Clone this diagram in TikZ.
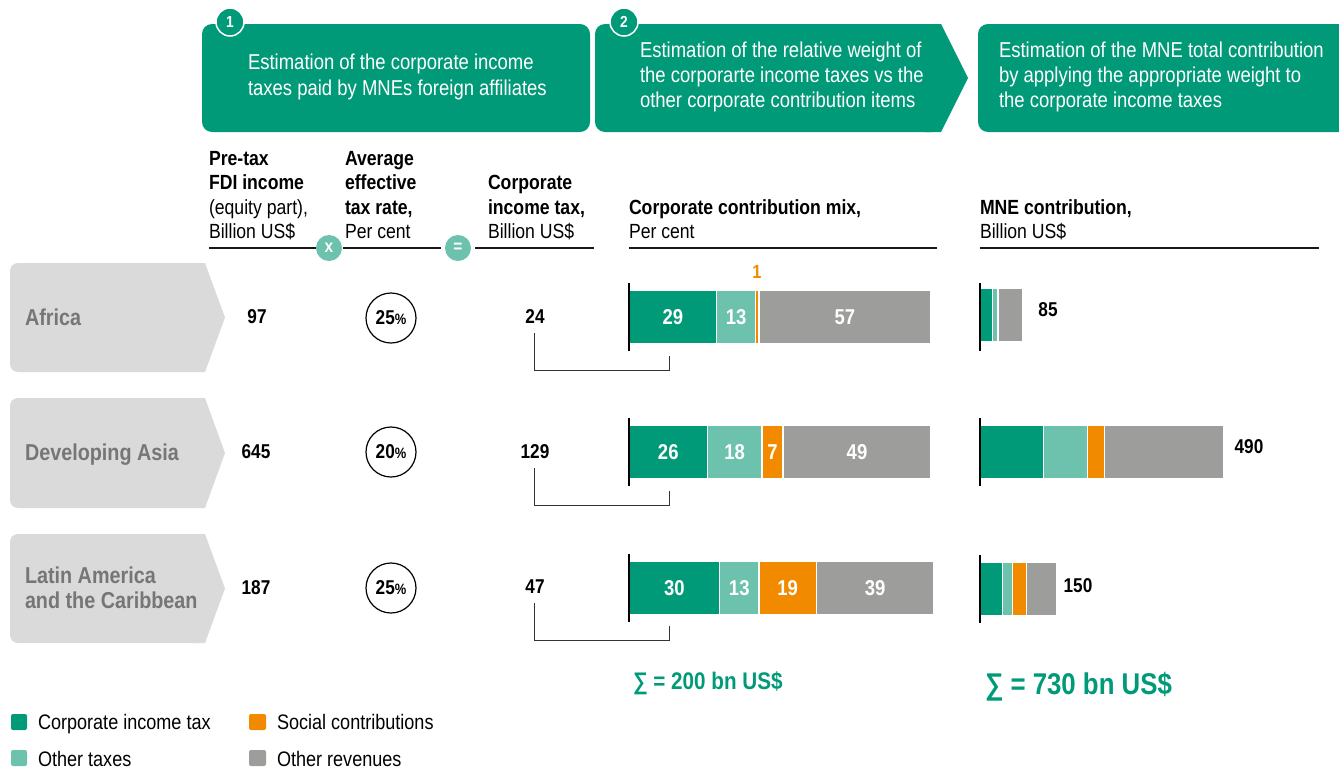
\documentclass[tikz,border=0pt]{standalone}
\usepackage{fontspec}
\setmainfont{Liberation Sans}[FakeStretch=0.86]
\definecolor{cgreen}{RGB}{0,154,120}
\definecolor{cteal}{RGB}{108,194,173}
\definecolor{corange}{RGB}{242,138,0}
\definecolor{cgray}{RGB}{157,157,156}
\definecolor{rowgray}{RGB}{218,218,218}
\definecolor{lblgray}{RGB}{118,118,118}
\newcommand\mybarseg[6]{%
  \path[seg, fill=#2] ({#3},{#5-27}) rectangle ({#4},{#5+27});
  \node[seglbl] (#1) at ({(#3+#4)/2},#5) {#6};}
\newcommand\myrowbox[3]{%
  \fill[rowbox, rounded corners=8pt] (10,#1) rectangle (206,#2);
  \fill[rowbox] (196,#1) -- (205,#1) -- (225,#3) -- (205,#2) -- (196,#2) -- cycle;}
\begin{document}
\begin{tikzpicture}[x=1pt,y=-1pt,
  txt/.style={inner sep=0pt, outer sep=0pt},
  banner/.style={fill=cgreen, rounded corners=10pt},
  bantxt/.style={txt, text=white, anchor=base west, font=\fontsize{21.5}{25}\selectfont},
  badge/.style={circle, fill=cgreen, draw=white, line width=1.5pt, minimum size=28pt, inner sep=0pt, text=white, font=\fontsize{16}{16}\selectfont\bfseries},
  hdb/.style={txt, anchor=base west, font=\fontsize{20.5}{24}\selectfont\bfseries},
  hdr/.style={txt, anchor=base west, font=\fontsize{20.5}{24}\selectfont},
  hline/.style={line width=1.2pt, draw=black!90},
  op/.style={circle, fill=cteal, minimum size=26pt, inner sep=0pt, text=white, font=\fontsize{18}{18}\selectfont\bfseries},
  rowbox/.style={fill=rowgray},
  rowlbl/.style={txt, anchor=base west, text=lblgray, font=\fontsize{23}{25}\selectfont\bfseries},
  val/.style={txt, font=\fontsize{20}{20}\selectfont\bfseries},
  rate/.style={circle, draw=black, line width=1.2pt, minimum size=50pt, inner sep=0pt, font=\fontsize{20}{20}\selectfont\bfseries},
  seg/.style={draw=white, line width=1.2pt},
  seglbl/.style={txt, text=white, font=\fontsize{21.5}{21.5}\selectfont\bfseries},
  axis/.style={line width=1.3pt, draw=black},
  bracket/.style={line width=1pt, draw=black!80},
  legsq/.style={rounded corners=2pt},
  legtxt/.style={txt, anchor=base west, font=\fontsize{21}{21}\selectfont},
  sumtxt/.style={txt, anchor=west, text=cgreen}
]
\useasboundingbox (0,0) rectangle (1339,769);

% ---------- banners ----------
\fill[banner] (202,24) rectangle (590,132);
\fill[banner] (595,24) rectangle (941,132);
\fill[cgreen] (925,24) -- (941,24) -- (968,78) -- (941,132) -- (925,132) -- cycle;
\fill[banner] (978,24) rectangle (1352,132);
\node[badge] (b1) at (230,22) {1};
\node[badge] (b2) at (624,22) {2};
\node[bantxt] (t11) at (248,69.5) {Estimation of the corporate income};
\node[bantxt] (t12) at (248,95) {taxes paid by MNEs foreign affiliates};
\node[bantxt] (t21) at (640,57.5) {Estimation of the relative weight of};
\node[bantxt] (t22) at (640,82.5) {the corporarte income taxes vs the};
\node[bantxt] (t23) at (640,107.5) {other corporate contribution items};
\node[bantxt] (t31) at (999,57.5) {Estimation of the MNE total contribution};
\node[bantxt] (t32) at (999,82.5) {by applying the appropriate weight to};
\node[bantxt] (t33) at (999,107.5) {the corporate income taxes};

% ---------- headers ----------
\node[hdb] (h11) at (209,165) {Pre-tax};
\node[hdb] (h12) at (209,189.5) {FDI income};
\node[hdr] (h13) at (209,214) {(equity part),};
\node[hdr] (h14) at (209,238.5) {Billion US\$};
\node[hdb] (h21) at (345,165) {Average};
\node[hdb] (h22) at (345,189.5) {effective};
\node[hdb] (h23) at (345,214) {tax rate,};
\node[hdr] (h24) at (345,238.5) {Per cent};
\node[hdb] (h31) at (488,189.5) {Corporate};
\node[hdb] (h32) at (488,214) {income tax,};
\node[hdr] (h33) at (488,238.5) {Billion US\$};
\node[hdb] (h41) at (629,214) {Corporate contribution mix,};
\node[hdr] (h42) at (629,238.5) {Per cent};
\node[hdb] (h51) at (980,214) {MNE contribution,};
\node[hdr] (h52) at (980,238.5) {Billion US\$};
\draw[hline] (209,248) -- (316,248);
\draw[hline] (343,248) -- (441,248);
\draw[hline] (475,248) -- (594,248);
\draw[hline] (629,248) -- (937,248);
\draw[hline] (980,248) -- (1319,248);
\node[op] (opx) at (329,248) {x};
\node[op] (opeq) at (458,248) {=};

% ---------- row boxes ----------
\myrowbox{263}{372}{317.5}
\myrowbox{398}{508}{453}
\myrowbox{534}{643}{588.5}
\node[rowlbl] (r1) at (25,325) {Africa};
\node[rowlbl] (r2) at (25,460) {Developing Asia};
\node[rowlbl] (r3a) at (25,583) {Latin America};
\node[rowlbl] (r3b) at (25,608) {and the Caribbean};

% ---------- values ----------
\node[val] (v1) at (257,317) {97};
\node[val] (v2) at (256,452) {645};
\node[val] (v3) at (256,588) {187};
\node[rate] (q1) at (391,318) {25{\fontsize{15}{15}\selectfont\%}};
\node[rate] (q2) at (391,452) {20{\fontsize{15}{15}\selectfont\%}};
\node[rate] (q3) at (391,588) {25{\fontsize{15}{15}\selectfont\%}};
\node[val] (c1) at (535,317) {24};
\node[val] (c2) at (535,452) {129};
\node[val] (c3) at (535,587) {47};

% ---------- mix bars ----------
\mybarseg{m1a}{cgreen}{629}{716.6}{317}{29}
\mybarseg{m1b}{cteal}{716.6}{755.8}{317}{13}
\mybarseg{m1c}{corange}{755.8}{758.9}{317}{}
\mybarseg{m1d}{cgray}{758.9}{931}{317}{57}
\node[txt, text=corange, font=\fontsize{19}{19}\selectfont\bfseries] (o1) at (757,272) {1};
\mybarseg{m2a}{cgreen}{629}{707.5}{452}{26}
\mybarseg{m2b}{cteal}{707.5}{761.9}{452}{18}
\mybarseg{m2c}{corange}{761.9}{783}{452}{7}
\mybarseg{m2d}{cgray}{783}{931}{452}{49}
\mybarseg{m3a}{cgreen}{629}{719.6}{588}{30}
\mybarseg{m3b}{cteal}{719.6}{758.9}{588}{13}
\mybarseg{m3c}{corange}{758.9}{816.2}{588}{19}
\mybarseg{m3d}{cgray}{816.2}{934}{588}{39}
\draw[axis] (629,283) -- (629,351);
\draw[axis] (629,418) -- (629,486);
\draw[axis] (629,554) -- (629,622);

% brackets
\draw[bracket] (534,333) |- (669,370) -- (669,356);
\draw[bracket] (534,468) |- (669,505) -- (669,491);
\draw[bracket] (534,603) |- (669,640) -- (669,626);

% ---------- MNE bars ----------
\mybarseg{n1a}{cgreen}{980}{992.3}{315}{}
\mybarseg{n1b}{cteal}{992.3}{997.8}{315}{}
\mybarseg{n1d}{cgray}{998.2}{1022.3}{315}{}
\mybarseg{n2a}{cgreen}{980}{1043.4}{452}{}
\mybarseg{n2b}{cteal}{1043.4}{1087.3}{452}{}
\mybarseg{n2c}{corange}{1087.3}{1104.4}{452}{}
\mybarseg{n2d}{cgray}{1104.4}{1224}{452}{}
\mybarseg{n3a}{cgreen}{980}{1002.4}{589}{}
\mybarseg{n3b}{cteal}{1002.4}{1012.1}{589}{}
\mybarseg{n3c}{corange}{1012.1}{1026.3}{589}{}
\mybarseg{n3d}{cgray}{1026.3}{1056.5}{589}{}
\draw[axis] (980,283) -- (980,351);
\draw[axis] (980,418) -- (980,486);
\draw[axis] (980,555) -- (980,623);
\node[val] (e1) at (1048,310) {85};
\node[val] (e2) at (1249,447) {490};
\node[val] (e3) at (1078,586) {150};

% ---------- sums ----------
\node[sumtxt, font=\fontsize{24}{24}\selectfont\bfseries] (s1) at (633,683) {∑ = 200 bn US\$};
\node[sumtxt, font=\fontsize{30}{30}\selectfont\bfseries] (s2) at (985,687) {∑ = 730 bn US\$};

% ---------- legend ----------
\fill[legsq, cgreen] (11,714) rectangle (27,730);
\fill[legsq, cteal] (11,750) rectangle (27,766);
\fill[legsq, corange] (249,714) rectangle (266,730);
\fill[legsq, cgray] (249,750) rectangle (266,766);
\node[legtxt] (l1) at (38,729.5) {Corporate income tax};
\node[legtxt] (l2) at (38,766) {Other taxes};
\node[legtxt] (l3) at (277,729.5) {Social contributions};
\node[legtxt] (l4) at (277,766) {Other revenues};
\end{tikzpicture}
\end{document}
